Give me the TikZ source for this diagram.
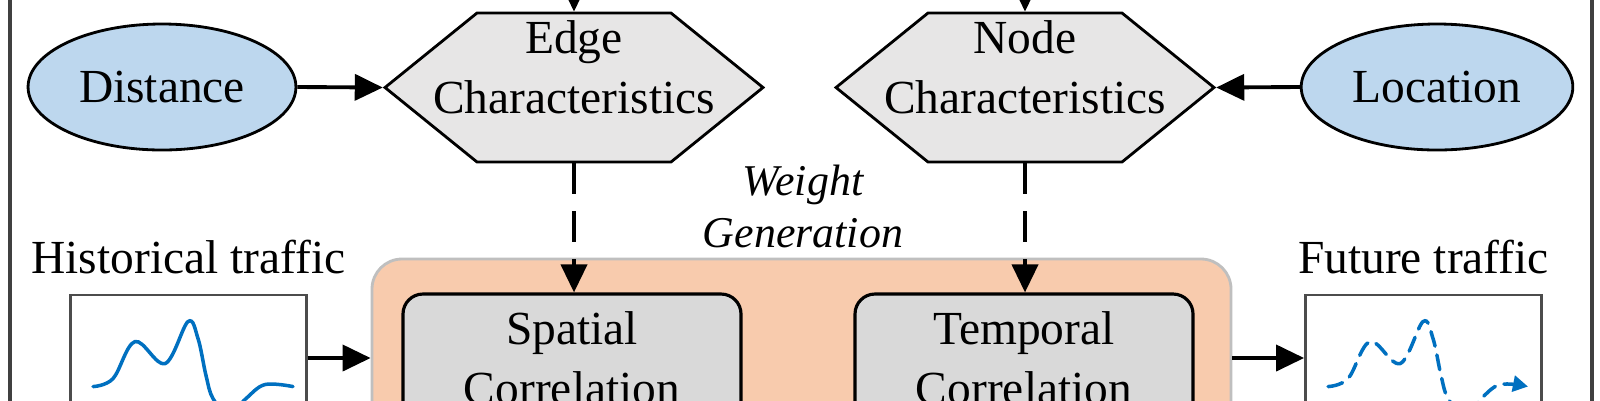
\documentclass[tikz,border=0pt]{standalone}
\usepackage{fontspec}
\setmainfont{Liberation Serif}
\usetikzlibrary{positioning,shapes.geometric,shapes.symbols,arrows.meta}
\definecolor{featblue}{HTML}{BDD7EE}
\definecolor{hexgray}{HTML}{E7E6E6}
\definecolor{corepeach}{HTML}{F8CBAD}
\definecolor{modgray}{HTML}{D9D9D9}
\definecolor{traceblue}{HTML}{0070C0}

\begin{document}
\begin{tikzpicture}[
	font=\fontsize{13.5}{17}\selectfont,
	feat/.style={ellipse,draw,fill=featblue,line width=0.8pt,minimum width=2.6cm,minimum height=1.26cm},
	charac/.style={signal,signal to=west and east,signal pointer angle=78,draw,fill=hexgray,line width=0.8pt,minimum width=3.78cm,minimum height=1.49cm,inner sep=0pt},
	module/.style={draw,rounded corners=0.2cm,fill=modgray,line width=0.9pt,minimum width=3.38cm,minimum height=1.28cm,align=center},
	plotbox/.style={draw=black!70,fill=white,line width=0.8pt,minimum width=2.36cm,minimum height=1.26cm},
	flow/.style={line width=1.1pt,-{Triangle[length=0.28cm,width=0.26cm]}},
	gen/.style={flow,dash pattern=on 0.31cm off 0.17cm},
	trace/.style={traceblue,line width=1pt,line cap=round},
	futtrace/.style={trace,dash pattern=on 0.15cm off 0.09cm,-{Triangle[length=0.15cm,width=0.16cm]}}
]
	\useasboundingbox (0,0) rectangle (16,4);
	\clip (0,0) rectangle (16,4);
	\draw[black!75,line width=0.9pt] (0.10,-1) rectangle (15.92,5);

	% inputs and characteristics
	\node[feat] (dist) at (1.62,3.13) {Distance};
	\node[feat] (loc) at (14.37,3.13) {Location};
	\node[charac] (edge) at (5.74,3.125) {};
	\node[charac] (nodech) at (10.25,3.125) {};
	\node[align=center] (edgetxt) at ([yshift=0.205cm]edge.center) {Edge\\Characteristics};
	\node[align=center] (nodetxt) at ([yshift=0.205cm]nodech.center) {Node\\Characteristics};
	\coordinate (edgein) at (5.74,4.6);
	\coordinate (nodein) at (10.25,4.6);

	\node[align=center,font=\fontsize{12.5}{15}\selectfont\itshape] (wgen) at (8.03,1.935) {Weight\\Generation};

	% model
	\node[draw=black!25,fill=corepeach,rounded corners=0.3cm,line width=0.8pt,minimum width=8.59cm,minimum height=1.98cm] (core) at (8.015,0.42) {};
	\node[module] (spat) at (5.72,0.42) {Spatial\\Correlation};
	\node[module] (temp) at (10.24,0.42) {Temporal\\Correlation};

	% traffic
	\node[plotbox] (hist) at (1.885,0.42) {};
	\node[plotbox] (fut) at (14.235,0.42) {};
	\node[above=0.07cm of hist] (histlbl) {Historical traffic};
	\node[above=0.07cm of fut] (futlbl) {Future traffic};
	\foreach \b/\look in {hist/trace,fut/futtrace}
		\draw[\look,shift={(\b.north west)},x=0.01cm,y=-0.01cm] plot[smooth,tension=0.6] coordinates
			{(24,93) (44,85) (66,48) (96,70) (119,28) (129,45) (137,82) (144,105) (160,121) (177,105) (196,91) (224,93)};

	\draw[flow] (dist.east) -- (edge.west);
	\draw[flow] (loc.west) -- (nodech.east);
	\draw[flow] (edgein) -- (edge.north);
	\draw[flow] (nodein) -- (nodech.north);
	\draw[gen] (edge.south) -- (edge.south |- spat.north);
	\draw[gen] (nodech.south) -- (nodech.south |- temp.north);
	\draw[flow] (hist.east) -- (core.west);
	\draw[flow] (core.east) -- (fut.west);
\end{tikzpicture}
\end{document}
